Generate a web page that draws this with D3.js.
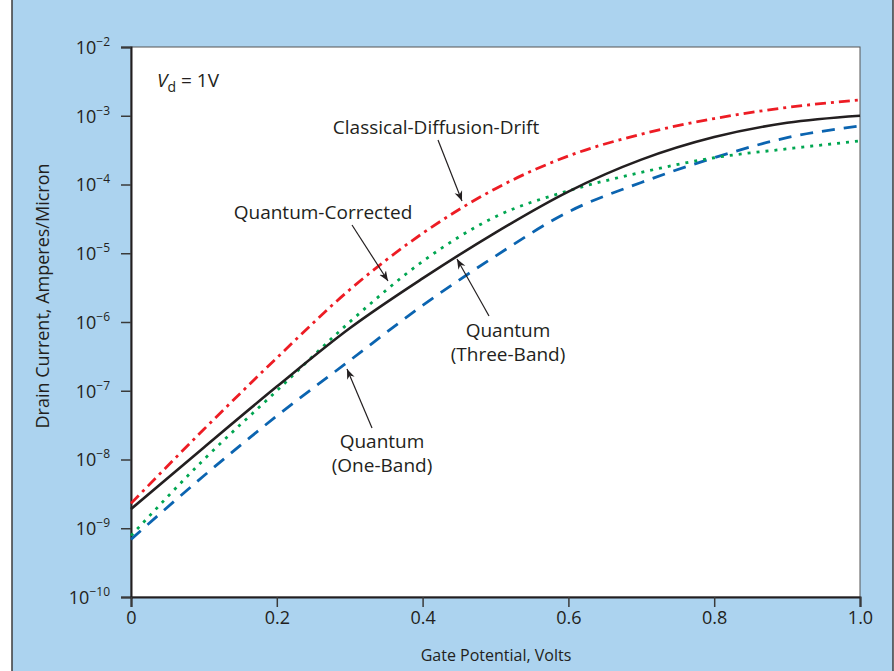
<!DOCTYPE html>
<html>
<head>
<meta charset="utf-8">
<script src="https://cdn.jsdelivr.net/npm/d3@7"></script>
<style>
  body { margin: 0; background: #fff; }
  svg { display: block; font-family: "Open Sans", "Noto Sans", sans-serif; }
  .lbl { fill: #231f20; }
</style>
</head>
<body>
<svg width="894" height="671"></svg>
<script>
// gate potential (V) and drain current (A/micron)
const gate = [0, 0.1, 0.2, 0.3, 0.4, 0.5, 0.6, 0.7, 0.8, 0.9, 1.0];
const classical = [2.3e-9, 2.75e-8, 3.0e-7, 2.95e-6, 1.95e-5, 8.7e-5, 2.6e-4, 5.4e-4, 9.1e-4, 1.32e-3, 1.7e-3];
const threeBand = [1.9e-9, 1.5e-8, 1.15e-7, 8.1e-7, 4.3e-6, 2.0e-5, 7.9e-5, 2.3e-4, 4.9e-4, 7.9e-4, 1.0e-3];
const corrected = [7.8e-10, 1.0e-8, 1.0e-7, 1.0e-6, 7.6e-6, 3.4e-5, 8.1e-5, 1.5e-4, 2.45e-4, 3.3e-4, 4.3e-4];
const oneBand = [6.9e-10, 5.8e-9, 4.3e-8, 2.75e-7, 1.74e-6, 9.1e-6, 4.0e-5, 1.07e-4, 2.45e-4, 4.8e-4, 7.1e-4];
const xTicks = [0, 0.2, 0.4, 0.6, 0.8, 1.0];
const yExps = [-2, -3, -4, -5, -6, -7, -8, -9, -10];

const svg = d3.select('svg');
const W = +svg.attr('width'), H = +svg.attr('height');
const margin = { top: 47, right: 34, bottom: 74, left: 131 };
const iw = W - margin.left - margin.right;
const ih = H - margin.top - margin.bottom;

// blue frame
svg.append('rect')
  .attr('x', 12).attr('y', -2).attr('width', 881).attr('height', H + 4)
  .attr('fill', '#acd3ef').attr('stroke', '#3c3c3c').attr('stroke-width', 1.5);

const g = svg.append('g').attr('transform', `translate(${margin.left},${margin.top})`);

const x = d3.scaleLinear().domain([0, 1]).range([0, iw]);
const y = d3.scaleLog().domain([1e-10, 1e-2]).range([ih, 0]);

g.append('rect').attr('width', iw).attr('height', ih)
  .attr('fill', '#fff').attr('stroke', '#555').attr('stroke-width', 1);

// axes
const yAx = g.append('g')
  .call(d3.axisLeft(y).tickValues(yExps.map(e => Math.pow(10, e))).tickSize(10).tickFormat(''));
const xAx = g.append('g').attr('transform', `translate(0,${ih})`)
  .call(d3.axisBottom(x).tickValues(xTicks).tickSize(10).tickFormat(d => d === 0 ? '0' : d.toFixed(1)));

[yAx, xAx].forEach(a => {
  a.select('.domain').attr('stroke', '#231f20').attr('stroke-width', 2);
  a.selectAll('.tick line').attr('stroke', '#3a3a3a').attr('stroke-width', 1.5);
});
xAx.selectAll('.tick text').attr('y', 14).attr('font-size', 18).attr('fill', '#231f20')
  .style('font-family', '"Open Sans", sans-serif');

yAx.selectAll('.tick').each(function (d) {
  const t = d3.select(this).append('text')
    .attr('x', -21).attr('dy', '0.35em').attr('text-anchor', 'end')
    .attr('fill', '#231f20').attr('font-size', 18)
    .style('font-family', '"Open Sans", sans-serif');
  t.append('tspan').text('10');
  t.append('tspan').attr('dy', -8).attr('font-size', 12).text('\u2212' + Math.round(-Math.log10(d)));
});

// curves
const series = [
  { vals: classical, color: '#ed1c24', dash: '11,5,3,5' },
  { vals: oneBand, color: '#0b64b0', dash: '13,9' },
  { vals: corrected, color: '#00a651', dash: '3,6' },
  { vals: threeBand, color: '#231f20', dash: null }
];
const line = d3.line().x(d => x(d[0])).y(d => y(d[1])).curve(d3.curveMonotoneX);
series.forEach(s => {
  g.append('path')
    .datum(gate.map((v, i) => [v, s.vals[i]]))
    .attr('d', line)
    .attr('fill', 'none')
    .attr('stroke', s.color)
    .attr('stroke-width', s.dash ? 2.8 : 2.6)
    .attr('stroke-dasharray', s.dash);
});

// annotations
svg.append('defs').append('marker')
  .attr('id', 'ah').attr('viewBox', '0 0 10 10').attr('refX', 10).attr('refY', 5)
  .attr('markerWidth', 10).attr('markerHeight', 10).attr('markerUnits', 'userSpaceOnUse')
  .attr('orient', 'auto')
  .append('path').attr('d', 'M0,1 L10,5 L0,9 L3,5 Z').attr('fill', '#231f20');

const arrows = [[438, 140, 462, 201], [352, 225, 388, 281], [489, 316, 457, 259], [372, 428, 347, 369]];
arrows.forEach(a => {
  svg.append('line').attr('x1', a[0]).attr('y1', a[1]).attr('x2', a[2]).attr('y2', a[3])
    .attr('stroke', '#231f20').attr('stroke-width', 1.2).attr('marker-end', 'url(#ah)');
});

const labels = [
  ['Classical-Diffusion-Drift', 436, 134],
  ['Quantum-Corrected', 323, 219],
  ['Quantum', 508, 337],
  ['(Three-Band)', 508, 361],
  ['Quantum', 382, 448],
  ['(One-Band)', 382, 472]
];
labels.forEach(l => {
  svg.append('text').attr('class', 'lbl').attr('font-size', 19).attr('x', l[1]).attr('y', l[2])
    .attr('text-anchor', 'middle').text(l[0]);
});

const vd = svg.append('text').attr('class', 'lbl').attr('font-size', 19).attr('x', 157).attr('y', 87);
vd.append('tspan').attr('font-style', 'italic').text('V');
vd.append('tspan').attr('dy', 5).attr('font-size', 14).text('d');
vd.append('tspan').attr('dy', -5).text(' = 1V');

// axis titles
svg.append('text').attr('class', 'lbl').attr('font-size', 16)
  .attr('x', 496).attr('y', 661).attr('text-anchor', 'middle')
  .text('Gate Potential, Volts');
svg.append('text').attr('class', 'lbl').attr('font-size', 18)
  .attr('transform', 'translate(49,296) rotate(-90)').attr('text-anchor', 'middle')
  .text('Drain Current, Amperes/Micron');
</script>
</body>
</html>
